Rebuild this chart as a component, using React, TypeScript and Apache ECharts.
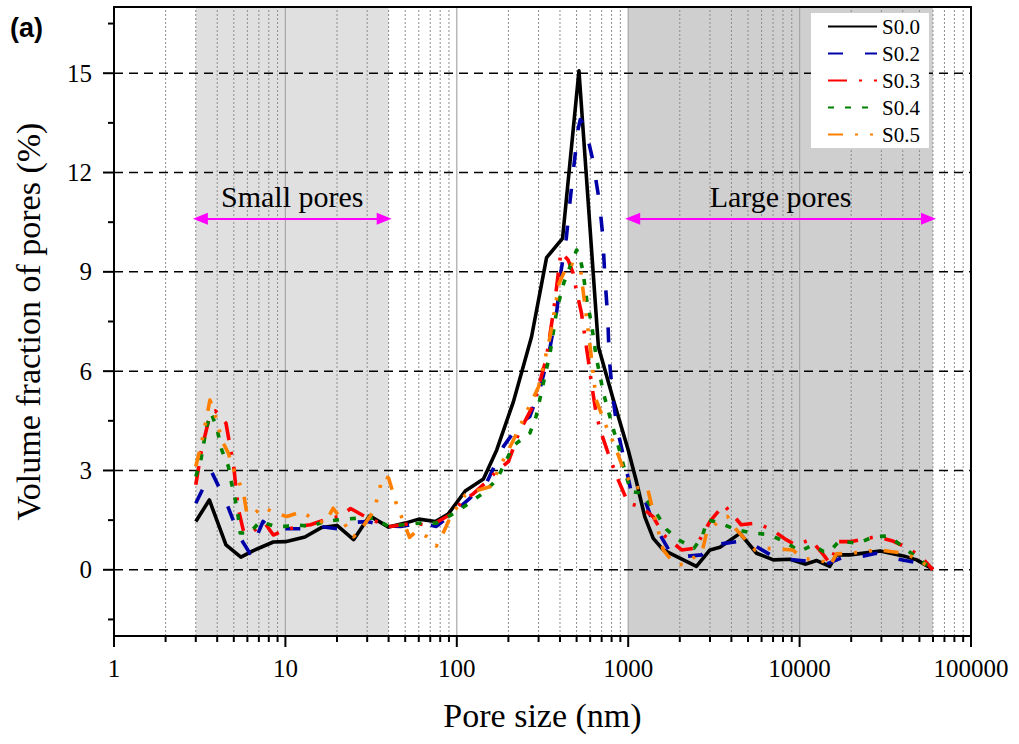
import React, { useEffect, useRef } from "react";
import * as echarts from "echarts";

// ---------- axis ranges / ticks ----------
const X_MIN = 1;
const X_MAX = 100000;
const Y_MIN = -2;
const Y_MAX = 17;
const xDecades = [1, 10, 100, 1000, 10000, 100000];
const xMinorMultipliers = [2, 3, 4, 5, 6, 7, 8, 9];
const yMajorTicks = [0, 3, 6, 9, 12, 15];
const yMinorTicks = [-1.5, 1.5, 4.5, 7.5, 10.5, 13.5, 16.5];

// ---------- annotations ----------
const smallPoreRange = [3, 40];
const largePoreRange = [1000, 60000];
const smallArrowRange = [3.19, 37.7];
const largeArrowRange = [1062, 56500];
const arrowLevel = 10.6;

// ---------- series ----------
const seriesNames = ["S0.0", "S0.2", "S0.3", "S0.4", "S0.5"];
const seriesColors = ["#000000", "#0000a8", "#ff0000", "#008000", "#ff8000"];

const s00X = [3, 3.6, 4.5, 5.5, 6.5, 8.5, 10, 13, 16.3, 20, 25, 31, 40, 50, 60, 75, 89, 112, 143, 171, 214, 273, 334, 414, 516, 670, 820, 1000, 1110, 1250, 1400, 1600, 2500, 3000, 3430, 4490, 5610, 7030, 8790, 10760, 12600, 15000, 16400, 19700, 29500, 40300, 48200, 60000];
const s00Y = [1.46, 2.11, 0.75, 0.38, 0.58, 0.84, 0.85, 0.99, 1.28, 1.34, 0.91, 1.63, 1.29, 1.41, 1.53, 1.46, 1.68, 2.38, 2.74, 3.62, 5.08, 7.04, 9.43, 10.01, 15.07, 6.74, 5.13, 3.62, 2.72, 1.6, 0.95, 0.6, 0.1, 0.6, 0.68, 1.1, 0.5, 0.3, 0.32, 0.17, 0.28, 0.1, 0.45, 0.45, 0.57, 0.42, 0.3, 0.02];

const s02X = [3, 3.7, 4.5, 5.4, 6.2, 7.4, 8.3, 10, 13, 16, 20, 25, 30, 38, 47, 61, 76, 95, 119, 149, 187, 234, 267, 306, 345, 384, 405, 435, 457, 482, 510, 525, 560, 620, 680, 710, 730, 760, 775, 810, 860, 960, 1040, 1250, 1400, 1750, 2100, 2680, 3140, 4300, 5000, 7030, 8500, 11600, 14000, 18000, 22000, 28000, 33000, 50000, 60000];
const s02Y = [2.01, 2.97, 2.06, 1.0, 0.5, 1.46, 1.26, 1.24, 1.24, 1.31, 1.24, 1.43, 1.46, 1.33, 1.31, 1.41, 1.31, 1.71, 2.16, 2.62, 3.72, 4.43, 4.63, 5.48, 6.54, 7.85, 9.0, 10.0, 11.1, 12.2, 13.3, 13.6, 13.4, 12.4, 11.1, 10.1, 8.9, 7.6, 6.4, 5.3, 4.3, 3.2, 2.36, 2.11, 1.41, 0.55, 0.4, 0.45, 0.75, 0.85, 0.85, 0.4, 0.32, 0.25, 0.15, 0.38, 0.38, 0.5, 0.38, 0.2, 0];

const s03X = [3, 3.24, 3.6, 3.9, 4.5, 5.0, 5.3, 5.7, 6.2, 7.6, 8.5, 10, 12, 14, 17, 21, 24, 31, 36, 41, 56, 70, 95, 107, 125, 150, 170, 200, 230, 280, 333, 370, 405, 446, 477, 498, 534, 585, 610, 650, 686, 764, 857, 1000, 1190, 1400, 1600, 2050, 2450, 3000, 3600, 4000, 4560, 5610, 6900, 8350, 9500, 11600, 13800, 15000, 17000, 19700, 28000, 34500, 43000, 52000, 60000];
const s03Y = [2.57, 3.62, 4.6, 4.8, 4.43, 3.1, 1.86, 1.16, 1.1, 1.41, 1.05, 1.21, 1.31, 1.36, 1.51, 1.62, 1.85, 1.53, 1.41, 1.31, 1.41, 1.33, 1.71, 2.06, 2.3, 2.67, 2.97, 3.27, 4.13, 4.98, 6.39, 7.95, 9.6, 9.36, 8.96, 8.45, 7.75, 6.34, 5.64, 4.73, 4.23, 3.52, 2.82, 2.01, 1.9, 1.6, 1.06, 0.6, 0.65, 1.46, 1.96, 1.71, 1.36, 1.41, 1.21, 0.91, 0.75, 0.91, 0.45, 0.2, 0.85, 0.85, 1.0, 0.88, 0.65, 0.35, 0];

const s04X = [3, 3.2, 3.47, 3.7, 4.0, 4.25, 4.65, 4.85, 5.1, 5.3, 5.45, 6.2, 7.1, 8.7, 10, 11.5, 14, 17, 21, 27, 33, 40, 49, 61, 76, 93, 114, 143, 171, 214, 267, 290, 320, 350, 383, 420, 458, 500, 520, 545, 573, 610, 650, 718, 800, 900, 975, 1040, 1190, 1460, 1680, 1960, 2420, 2700, 2900, 3430, 4280, 5360, 6700, 8500, 10000, 11900, 13800, 15000, 17000, 22000, 27000, 33000, 40000, 48000, 60000];
const s04Y = [2.82, 3.27, 4.33, 4.73, 4.23, 3.62, 3.12, 2.62, 2.11, 1.61, 1.11, 1.11, 1.46, 1.31, 1.31, 1.36, 1.31, 1.46, 1.52, 1.56, 1.56, 1.31, 1.36, 1.41, 1.41, 1.66, 1.96, 2.32, 2.72, 3.75, 4.13, 4.63, 5.64, 6.54, 7.85, 8.65, 9.16, 9.66, 9.5, 9.0, 8.15, 7.45, 6.44, 5.33, 4.43, 3.52, 2.82, 2.36, 2.32, 1.71, 1.21, 0.91, 0.65, 1.0, 1.51, 1.41, 1.21, 1.11, 1.06, 0.8, 0.55, 0.75, 0.55, 0.55, 0.87, 0.8, 1.0, 1.02, 0.7, 0.38, 0];

const s05X = [3, 3.24, 3.63, 4.0, 4.25, 4.65, 4.9, 5.3, 5.7, 5.95, 6.5, 7.3, 8.7, 10.2, 12.5, 14.2, 17, 19, 25, 28, 33, 37, 40, 44, 53, 58, 67, 76, 85, 91, 112, 134, 156, 214, 300, 350, 395, 446, 525, 545, 600, 650, 745, 840, 940, 1070, 1290, 1400, 1600, 1850, 2100, 2700, 2860, 3430, 3800, 4280, 5500, 6300, 9100, 10500, 13800, 15000, 16400, 19700, 25000, 28000, 34000, 41000, 49500, 60000];
const s05Y = [3.12, 3.82, 5.13, 4.48, 3.92, 3.52, 3.12, 2.72, 2.32, 1.71, 1.66, 1.91, 1.71, 1.61, 1.76, 1.56, 1.41, 1.86, 1.0, 1.26, 1.81, 2.82, 2.77, 2.05, 0.98, 1.16, 1.0, 0.72, 1.21, 1.56, 2.26, 2.41, 2.51, 3.92, 5.53, 7.04, 8.65, 9.26, 9.16, 8.45, 6.74, 5.13, 4.33, 3.72, 3.02, 2.47, 2.51, 1.75, 0.6, 0.2, 0.15, 0.55, 1.1, 1.51, 1.61, 1.21, 0.6, 0.65, 0.6, 0.35, 0.25, 0.1, 0.48, 0.5, 0.55, 0.62, 0.55, 0.5, 0.3, 0];

const seriesXs = [s00X, s02X, s03X, s04X, s05X];
const seriesYs = [s00Y, s02Y, s03Y, s04Y, s05Y];

const SERIF = "'Liberation Serif', 'Times New Roman', serif";
const lineDashes: any[] = ["solid", [15, 22], [19, 12, 3, 12], [6, 11], [15, 12, 3, 12, 3, 12]];

function buildOption() {
  const xTickData: number[][] = [];
  xDecades.forEach((d) => xTickData.push([d, Y_MIN, 1]));
  xDecades.slice(0, -1).forEach((d) =>
    xMinorMultipliers.forEach((m) => xTickData.push([d * m, Y_MIN, 0]))
  );
  const yTickData: number[][] = [];
  yMajorTicks.forEach((v) => yTickData.push([X_MIN, v, 1]));
  yMinorTicks.forEach((v) => yTickData.push([X_MIN, v, 0]));

  const dataSeries = seriesNames.map((name, i) => ({
    name,
    type: "line",
    data: seriesXs[i].map((x, j) => [x, seriesYs[i][j]]),
    symbol: "none",
    showSymbol: false,
    z: 3,
    silent: true,
    lineStyle: {
      color: seriesColors[i],
      width: 3.6,
      type: lineDashes[i],
      cap: "butt",
      join: "round",
    },
    itemStyle: { color: seriesColors[i] },
  }));

  return {
    animation: false,
    backgroundColor: "#ffffff",
    grid: { left: 114, right: 48, top: 7, bottom: 108, containLabel: false, outerBoundsMode: "none" },
    legend: {
      data: seriesNames,
      orient: "vertical",
      left: 811,
      top: 13,
      backgroundColor: "#ffffff",
      padding: [3, 9, 3, 16],
      itemWidth: 49,
      itemHeight: 14,
      itemGap: 6,
      z: 20,
      itemStyle: { opacity: 0 },
      textStyle: { fontSize: 21, lineHeight: 21, fontFamily: SERIF, color: "#000" },
    },
    xAxis: [
      {
        type: "log",
        logBase: 10,
        min: X_MIN,
        max: X_MAX,
        position: "bottom",
        z: 10,
        axisLine: { show: true, onZero: false, lineStyle: { color: "#000", width: 2 } },
        axisTick: { show: false },
        minorTick: { show: false },
        splitLine: { show: false },
        axisLabel: {
          formatter: (v: number) => String(Math.round(v)),
          fontSize: 25,
          fontFamily: SERIF,
          color: "#000",
          margin: 20,
        },
        name: "Pore size (nm)",
        nameLocation: "middle",
        nameGap: 62,
        nameTextStyle: { fontSize: 34, fontFamily: SERIF, color: "#000" },
      },
      {
        type: "log",
        logBase: 10,
        min: X_MIN,
        max: X_MAX,
        position: "top",
        z: 10,
        axisLine: { show: true, onZero: false, lineStyle: { color: "#000", width: 2 } },
        axisTick: { show: false },
        axisLabel: { show: false },
        splitLine: { show: false },
      },
    ],
    yAxis: [
      {
        type: "value",
        min: Y_MIN,
        max: Y_MAX,
        interval: 1,
        z: 10,
        axisLine: { show: true, onZero: false, lineStyle: { color: "#000", width: 2 } },
        axisTick: { show: false },
        splitLine: { show: false },
        axisLabel: {
          formatter: (v: number) => (yMajorTicks.indexOf(v) >= 0 ? String(v) : ""),
          fontSize: 25,
          fontFamily: SERIF,
          color: "#000",
          margin: 22,
        },
        name: "Volume fraction of pores (%)",
        nameLocation: "middle",
        nameGap: 69,
        nameTextStyle: { fontSize: 34, fontFamily: SERIF, color: "#000" },
      },
      {
        type: "value",
        min: Y_MIN,
        max: Y_MAX,
        interval: 1,
        position: "right",
        z: 10,
        axisLine: { show: true, onZero: false, lineStyle: { color: "#000", width: 2 } },
        axisTick: { show: false },
        axisLabel: { show: false },
        splitLine: { show: false },
      },
    ],
    graphic: [
      {
        type: "text",
        left: 10,
        top: 14,
        style: { text: "(a)", font: "bold 27px 'Liberation Sans', Arial, sans-serif", fill: "#000" },
      },
    ],
    series: [
      {
        name: "regions",
        type: "line",
        data: [],
        z: 1,
        silent: true,
        markArea: {
          silent: true,
          data: [
            [{ xAxis: smallPoreRange[0], itemStyle: { color: "#e0e0e0" } }, { xAxis: smallPoreRange[1] }],
            [{ xAxis: largePoreRange[0], itemStyle: { color: "#cfcfcf" } }, { xAxis: largePoreRange[1] }],
          ],
        },
        markLine: {
          silent: true,
          symbol: ["triangle", "triangle"],
          symbolSize: [12, 15],
          lineStyle: { color: "#ff00ff", width: 2, type: "solid" },
          label: {
            show: true,
            position: "insideMiddleTop",
            distance: 7,
            formatter: (p: any) => p.name,
            fontSize: 30,
            fontFamily: SERIF,
            color: "#000",
          },
          data: [
            [{ name: "Small pores", coord: [smallArrowRange[0], arrowLevel] }, { coord: [smallArrowRange[1], arrowLevel] }],
            [{ name: "Large pores", coord: [largeArrowRange[0], arrowLevel] }, { coord: [largeArrowRange[1], arrowLevel] }],
          ],
        },
      },
      {
        name: "xgrid",
        type: "custom",
        z: 2,
        silent: true,
        clip: false,
        data: xTickData,
        renderItem: (params: any, api: any) => {
          const x = api.value(0);
          const major = api.value(2) === 1;
          const pb = api.coord([x, Y_MIN]);
          const pt = api.coord([x, Y_MAX]);
          const children: any[] = [];
          if (x > X_MIN && x < X_MAX) {
            children.push({
              type: "line",
              shape: { x1: pb[0], y1: pb[1], x2: pt[0], y2: pt[1] },
              style: major
                ? { stroke: "#a8a8a8", lineWidth: 1.2 }
                : { stroke: "#8c8c8c", lineWidth: 1, lineDash: [2, 2] },
            });
          }
          children.push({
            type: "line",
            shape: { x1: pb[0], y1: pb[1], x2: pb[0], y2: pb[1] + (major ? 11 : 6) },
            style: { stroke: "#000", lineWidth: 2 },
          });
          return { type: "group", children };
        },
      },
      {
        name: "ygrid",
        type: "custom",
        z: 2,
        silent: true,
        clip: false,
        data: yTickData,
        renderItem: (params: any, api: any) => {
          const y = api.value(1);
          const major = api.value(2) === 1;
          const pl = api.coord([X_MIN, y]);
          const pr = api.coord([X_MAX, y]);
          const children: any[] = [];
          if (major) {
            children.push({
              type: "line",
              shape: { x1: pl[0], y1: pl[1], x2: pr[0], y2: pr[1] },
              style: { stroke: "#000", lineWidth: 1.5, lineDash: [9, 6] },
            });
          }
          children.push({
            type: "line",
            shape: { x1: pl[0], y1: pl[1], x2: pl[0] - (major ? 11 : 6), y2: pl[1] },
            style: { stroke: "#000", lineWidth: 2 },
          });
          return { type: "group", children };
        },
      },
      ...dataSeries,
    ],
  };
}

export default function App() {
  const ref = useRef<HTMLDivElement>(null);
  useEffect(() => {
    if (!ref.current) return;
    const chart = echarts.init(ref.current, null, { renderer: "svg" });
    chart.setOption(buildOption() as any);
    return () => chart.dispose();
  }, []);
  return (
    <div
      ref={ref}
      style={{ position: "fixed", left: 0, top: 0, width: 1019, height: 744, background: "#fff" }}
    />
  );
}
